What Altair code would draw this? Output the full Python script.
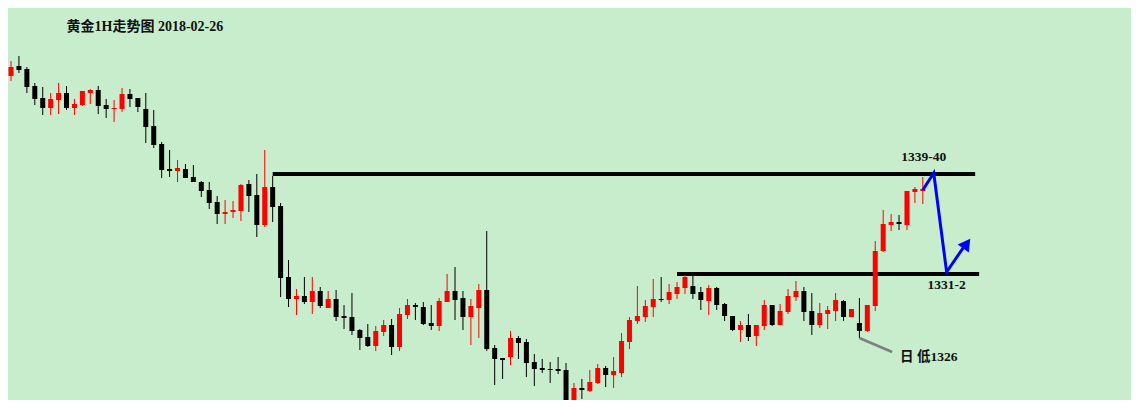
import altair as alt
import pandas as pd

# hourly gold candles, prices
opens = [1345.64, 1347.32, 1348.12, 1347.88, 1346.52, 1345.56, 1344.76, 1345.40, 1345.96, 1344.76,
         1345.00, 1345.96, 1346.20, 1345.00, 1344.68, 1344.68, 1345.88, 1345.56, 1344.68, 1343.32,
         1341.88, 1339.88, 1339.72, 1339.88, 1339.24, 1338.84, 1338.20, 1337.24, 1336.28, 1336.44,
         1336.52, 1338.68, 1337.80, 1335.40, 1338.44, 1336.92, 1331.24, 1329.48, 1329.72, 1329.24,
         1330.12, 1328.76, 1329.48, 1328.12, 1328.04, 1327.00, 1326.44, 1325.72, 1326.84, 1327.40,
         1325.64, 1328.20, 1329.00, 1328.84, 1327.56, 1327.32, 1329.24, 1330.12, 1329.56, 1328.04,
         1328.76, 1330.20, 1325.56, 1324.76, 1324.84, 1326.36, 1326.04, 1324.44, 1323.96, 1323.88,
         1323.88, 1323.80, 1321.40, 1322.36, 1322.12, 1322.76, 1323.96, 1323.40, 1323.56, 1326.04,
         1327.72, 1328.04, 1328.84, 1329.48, 1329.40, 1329.88, 1330.36, 1330.52, 1330.04, 1329.32,
         1330.36, 1329.08, 1328.12, 1327.00, 1327.40, 1326.52, 1327.32, 1329.00, 1327.40, 1328.44,
         1329.64, 1330.12, 1328.52, 1327.40, 1328.28, 1328.52, 1329.32, 1328.04, 1327.56, 1326.92,
         1328.92, 1333.32, 1335.40, 1335.64, 1335.40, 1338.04, 1338.12]
highs = [1347.48, 1348.52, 1348.92, 1348.04, 1346.76, 1346.44, 1345.96, 1346.76, 1346.52, 1345.48,
         1346.12, 1346.28, 1346.52, 1345.48, 1345.40, 1346.36, 1346.28, 1345.56, 1345.96, 1344.60,
         1342.04, 1341.40, 1340.60, 1340.28, 1340.20, 1338.92, 1338.84, 1337.72, 1337.40, 1337.32,
         1338.68, 1339.00, 1339.48, 1341.40, 1339.32, 1337.16, 1332.60, 1330.28, 1331.24, 1331.24,
         1330.44, 1330.12, 1330.20, 1329.00, 1329.96, 1327.08, 1327.48, 1327.32, 1327.80, 1327.88,
         1328.76, 1329.48, 1329.16, 1329.24, 1329.00, 1329.56, 1331.48, 1332.04, 1330.12, 1329.48,
         1330.68, 1334.92, 1325.80, 1324.76, 1326.92, 1326.52, 1326.28, 1325.08, 1324.68, 1324.44,
         1324.84, 1324.36, 1322.76, 1323.08, 1323.80, 1324.28, 1324.12, 1324.84, 1326.76, 1328.04,
         1330.52, 1329.40, 1331.08, 1331.24, 1330.68, 1330.84, 1331.40, 1331.32, 1330.44, 1330.60,
         1330.44, 1329.16, 1328.12, 1327.72, 1328.28, 1327.40, 1329.40, 1329.00, 1329.08, 1330.28,
         1330.92, 1330.44, 1329.96, 1329.16, 1328.92, 1329.96, 1329.40, 1328.68, 1329.56, 1329.00,
         1334.12, 1336.60, 1336.28, 1336.20, 1338.12, 1338.44, 1339.24]
lows = [1345.56, 1346.92, 1347.56, 1345.96, 1345.00, 1344.20, 1344.20, 1344.28, 1344.60, 1344.20,
        1344.92, 1345.08, 1344.28, 1343.96, 1343.64, 1344.44, 1344.84, 1344.44, 1341.96, 1341.56,
        1339.16, 1339.24, 1338.84, 1339.16, 1338.84, 1337.64, 1336.68, 1335.48, 1335.48, 1335.96,
        1335.72, 1336.44, 1334.44, 1335.24, 1335.64, 1329.64, 1328.84, 1328.20, 1329.08, 1328.28,
        1328.76, 1328.76, 1327.72, 1327.08, 1326.60, 1325.40, 1325.64, 1325.32, 1326.52, 1325.00,
        1325.32, 1327.88, 1327.80, 1327.40, 1327.00, 1326.92, 1329.24, 1327.80, 1327.00, 1325.80,
        1326.36, 1325.32, 1322.60, 1323.08, 1324.20, 1324.68, 1323.24, 1322.52, 1323.56, 1322.76,
        1323.48, 1321.32, 1321.32, 1321.48, 1322.04, 1322.68, 1322.44, 1322.36, 1323.24, 1325.48,
        1327.48, 1327.64, 1328.04, 1329.24, 1329.08, 1329.48, 1329.88, 1329.48, 1328.60, 1328.20,
        1328.60, 1327.72, 1326.92, 1326.04, 1326.12, 1325.72, 1327.00, 1327.32, 1327.40, 1328.28,
        1329.32, 1327.72, 1326.60, 1327.16, 1327.08, 1327.72, 1327.72, 1328.04, 1326.36, 1326.84,
        1328.52, 1333.24, 1334.92, 1335.00, 1335.00, 1337.16, 1337.08]
closes = [1347.40, 1348.04, 1347.80, 1346.44, 1345.48, 1344.76, 1345.48, 1345.96, 1344.76, 1345.08,
          1346.12, 1346.20, 1344.92, 1344.68, 1344.76, 1345.88, 1345.48, 1344.84, 1343.24, 1341.80,
          1339.80, 1339.72, 1339.96, 1339.16, 1338.84, 1338.12, 1337.16, 1336.28, 1336.44, 1336.60,
          1338.60, 1337.72, 1335.40, 1338.44, 1336.84, 1331.16, 1329.48, 1329.72, 1329.24, 1330.12,
          1328.92, 1329.48, 1328.04, 1327.96, 1326.92, 1326.36, 1325.72, 1326.92, 1327.40, 1325.64,
          1328.28, 1329.00, 1328.84, 1327.48, 1327.32, 1329.32, 1330.12, 1329.40, 1328.04, 1328.92,
          1330.20, 1325.48, 1324.68, 1324.60, 1326.36, 1325.96, 1324.36, 1323.88, 1323.80, 1323.80,
          1323.72, 1321.40, 1322.36, 1322.20, 1322.84, 1323.96, 1323.40, 1323.72, 1326.12, 1327.80,
          1328.12, 1328.92, 1329.48, 1329.40, 1330.04, 1330.44, 1331.24, 1329.88, 1329.40, 1330.36,
          1329.00, 1328.12, 1327.00, 1327.40, 1326.44, 1327.40, 1329.00, 1327.40, 1328.52, 1329.72,
          1330.12, 1328.44, 1327.40, 1328.36, 1328.60, 1329.40, 1328.04, 1328.68, 1326.92, 1329.00,
          1333.32, 1335.48, 1335.64, 1335.48, 1338.12, 1338.28, 1338.28]

# resistance / support levels
level_prices = [1339.48, 1331.48]
level_from = [34, 85]
level_to = [122.6, 123.1]

# forecast path (blue)
path_idx = [116, 117.375, 119, 121.25]
path_price = [1338.2, 1339.56, 1331.64, 1333.72]
head_idx = [121.54]
head_price = [1333.91]

# day low pointer
low_idx = [108, 112.125]
low_price = [1326.36, 1325.24]

title_text = "黄金1H走势图 2018-02-26"
level_labels = ["1339-40", "1331-2"]
level_label_idx = [116.125, 119]
level_label_price = [1340.84, 1330.6]

bg = "#c7edcc"
font = "Liberation Serif, Noto Sans CJK SC"

candles = pd.DataFrame({
    "idx": range(len(opens)),
    "open": opens,
    "high": highs,
    "low": lows,
    "close": closes,
})
candles["dir"] = ["up" if c >= o else "down" for o, c in zip(opens, closes)]

x_scale = alt.Scale(domain=[1.25, 141.625], nice=False, zero=False)
y_scale = alt.Scale(domain=[1321.4, 1352.76], nice=False, zero=False)
color = alt.Color("dir:N", scale=alt.Scale(domain=["up", "down"], range=["#ff0000", "#000000"]), legend=None)

base = alt.Chart(candles)

wicks = base.mark_rule(strokeWidth=1).encode(
    alt.X("idx:Q", scale=x_scale, axis=None),
    alt.Y("low:Q", scale=y_scale, axis=None),
    alt.Y2("high:Q"),
    color=color,
)

bodies = base.mark_bar(size=5).encode(
    alt.X("idx:Q", scale=x_scale, axis=None),
    alt.Y("open:Q", scale=y_scale, axis=None),
    alt.Y2("close:Q"),
    color=color,
)

levels = alt.Chart(pd.DataFrame({"p": level_prices, "a": level_from, "b": level_to})).mark_rule(
    color="black", strokeWidth=4
).encode(
    alt.X("a:Q", scale=x_scale, axis=None),
    alt.X2("b:Q"),
    alt.Y("p:Q", scale=y_scale, axis=None),
)

path_df = pd.DataFrame({"i": path_idx, "p": path_price, "o": range(len(path_idx))})
path = alt.Chart(path_df).mark_line(color="#0000ff", strokeWidth=3).encode(
    alt.X("i:Q", scale=x_scale, axis=None),
    alt.Y("p:Q", scale=y_scale, axis=None),
    order="o:Q",
)

head = alt.Chart(pd.DataFrame({"i": head_idx, "p": head_price})).mark_point(
    shape="triangle-up", filled=True, color="#0000ff", size=190, angle=36, opacity=1
).encode(
    alt.X("i:Q", scale=x_scale, axis=None),
    alt.Y("p:Q", scale=y_scale, axis=None),
)

low_line = alt.Chart(pd.DataFrame({"i": low_idx, "p": low_price})).mark_line(
    color="#808080", strokeWidth=2.5
).encode(
    alt.X("i:Q", scale=x_scale, axis=None),
    alt.Y("p:Q", scale=y_scale, axis=None),
)

centered = alt.Chart(pd.DataFrame({"i": level_label_idx, "p": level_label_price, "t": level_labels})).mark_text(
    font=font, fontSize=13.5, fontWeight="bold", color="#111111", align="center", baseline="middle"
).encode(
    alt.X("i:Q", scale=x_scale, axis=None),
    alt.Y("p:Q", scale=y_scale, axis=None),
    text="t:N",
)

left = alt.Chart(pd.DataFrame({"i": [8, 113.125], "p": [1351.24, 1324.84], "t": [title_text, "日 低1326"],
                               "s": [14, 13.5]})).mark_text(
    font=font, fontWeight="bold", color="#111111", align="left", baseline="middle"
).encode(
    alt.X("i:Q", scale=x_scale, axis=None),
    alt.Y("p:Q", scale=y_scale, axis=None),
    alt.Size("s:Q", scale=None, legend=None),
    text="t:N",
)

chart = alt.layer(levels, wicks, bodies, path, head, low_line, centered, left).properties(
    width=1123,
    height=392,
    padding=0,
    autosize="none",
    background=bg,
).configure_view(strokeWidth=0)

chart.save("out.html", embed_options={"renderer": "svg", "actions": False})
